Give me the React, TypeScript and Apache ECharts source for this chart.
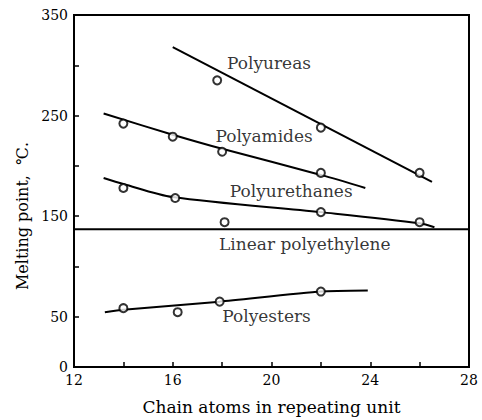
import React, { useEffect, useRef } from "react";
import * as echarts from "echarts";

const xTicks = [12, 28, 2];
const yTicks = [0, 350, 50];

const polyureaPts = [[17.8, 285], [22, 238], [26, 193]];
const polyureaLine = [[16, 318], [26.5, 184]];

const polyamidePts = [[14, 242], [16, 229], [18, 214], [22, 193]];
const polyamideLine = [[13.2, 252], [16, 231], [18, 217], [22, 191], [23.8, 178]];

const polyurethanePts = [[14, 178], [16.1, 168], [18.1, 144], [22, 154], [26, 144]];
const polyurethaneLine = [[13.2, 188], [14, 182], [16, 169], [22, 154], [26, 143], [26.6, 139]];

const polyethyleneLine = [[12, 137], [28, 137]];

const polyesterPts = [[14, 58.5], [16.2, 54.5], [17.9, 65], [22, 75]];
const polyesterLine = [[13.25, 54.5], [14, 57], [17.9, 65], [22, 75], [23.9, 76]];

const labelNames = ["Polyureas", "Polyamides", "Polyurethanes", "Linear polyethylene", "Polyesters"];
const labelX = [19.9, 19.7, 20.8, 21.35, 19.8];
const labelY = [302, 230, 175, 122, 50.5];

const FONT = "DejaVu Serif";

export default function App() {
  const ref = useRef<HTMLDivElement>(null);
  useEffect(() => {
    const chart = echarts.init(ref.current!, null, { renderer: "svg" });
    const lineS = (data: number[][], smooth = 0) => ({
      type: "line",
      data,
      symbol: "none",
      smooth,
      lineStyle: { color: "#000", width: 2 },
      z: 2,
    });
    const ptS = (data: number[][]) => ({
      type: "scatter",
      data,
      symbol: "circle",
      symbolSize: 8,
      itemStyle: { color: "#fff", borderColor: "#000", borderWidth: 2 },
      z: 3,
    });
    chart.setOption({
      animation: false,
      textStyle: { fontFamily: FONT, color: "#000" },
      grid: {
        left: 74,
        right: 13,
        top: 15,
        bottom: 52,
        show: true,
        borderColor: "#000",
        borderWidth: 2,
        backgroundColor: "transparent",
      },
      graphic: [
        {
          type: "text",
          x: 22,
          y: 216,
          rotation: Math.PI / 2,
          style: {
            text: "Melting point,  ℃.",
            font: `16px "${FONT}"`,
            fill: "#000",
            align: "center",
            verticalAlign: "middle",
          },
        },
      ],
      xAxis: {
        type: "value",
        min: xTicks[0],
        max: xTicks[1],
        interval: xTicks[2],
        name: "Chain atoms in repeating unit",
        nameLocation: "middle",
        nameGap: 31,
        nameTextStyle: { fontFamily: FONT, fontSize: 17, color: "#000" },
        axisLine: { lineStyle: { color: "#000", width: 2 } },
        axisTick: { inside: true, length: 5, lineStyle: { color: "#000", width: 1.5 } },
        axisLabel: {
          fontFamily: FONT,
          fontSize: 14,
          color: "#000",
          margin: 6,
          formatter: (v: number) => (v % 4 === 0 ? String(v) : ""),
        },
        splitLine: { show: false },
      },
      yAxis: {
        type: "value",
        min: yTicks[0],
        max: yTicks[1],
        interval: yTicks[2],
        axisLine: { show: true, lineStyle: { color: "#000", width: 2 } },
        axisTick: { show: true, inside: true, length: 5, lineStyle: { color: "#000", width: 1.5 } },
        axisLabel: {
          fontFamily: FONT,
          fontSize: 14,
          color: "#000",
          margin: 6,
          formatter: (v: number) => (v === 0 || v % 100 === 50 ? String(v) : ""),
        },
        splitLine: { show: false },
      },
      series: [
        lineS(polyureaLine),
        ptS(polyureaPts),
        lineS(polyamideLine, 0.3),
        ptS(polyamidePts),
        lineS(polyurethaneLine, 0.3),
        ptS(polyurethanePts),
        lineS(polyethyleneLine),
        lineS(polyesterLine, 0.2),
        ptS(polyesterPts),
        {
          type: "scatter",
          symbolSize: 0,
          data: labelNames.map((n, i) => ({ name: n, value: [labelX[i], labelY[i]] })),
          label: {
            show: true,
            position: "inside",
            formatter: "{b}",
            fontFamily: FONT,
            fontSize: 17,
            color: "#000",
          },
          z: 4,
        },
      ],
    });
    return () => chart.dispose();
  }, []);
  return (
    <div
      ref={ref}
      style={{ position: "absolute", left: 0, top: 0, width: 482, height: 420 }}
    />
  );
}
